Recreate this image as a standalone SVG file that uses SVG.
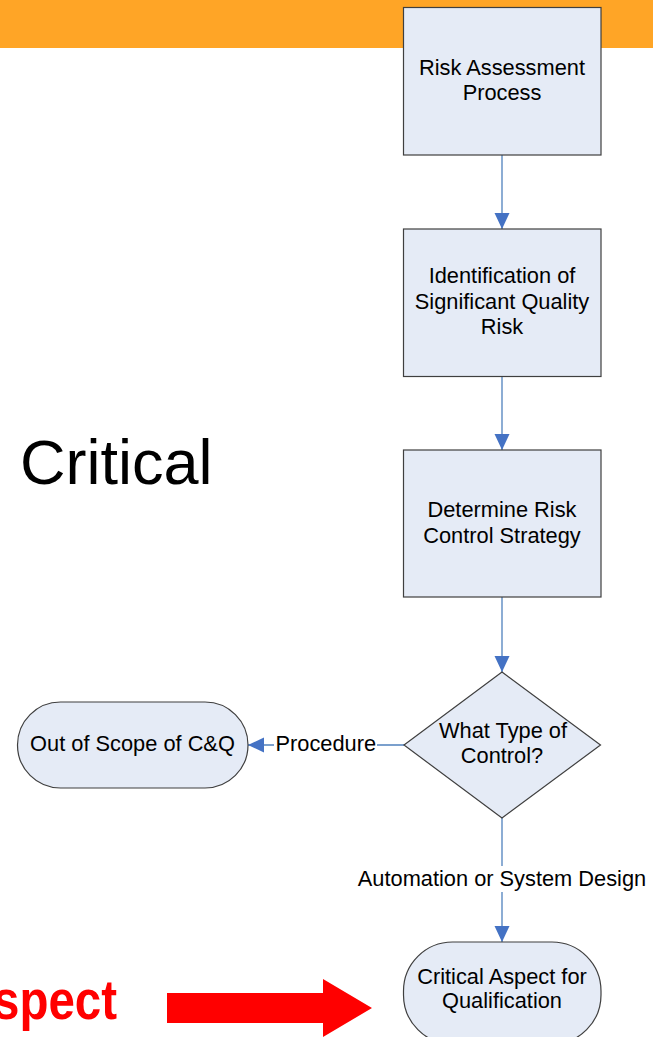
<svg xmlns="http://www.w3.org/2000/svg" width="653" height="1037" viewBox="0 0 653 1037">
<style>
.node{fill:#E5EBF6;stroke:#3F3F3F;stroke-width:1.2}
.t{font-family:"Liberation Sans",Arial,sans-serif;font-size:21.8px;fill:#000;text-anchor:middle}
.conn{stroke:#4F81BD;stroke-width:1.3;fill:none}
.lbl{font-family:"Liberation Sans",Arial,sans-serif;font-size:21.8px;fill:#000}
</style>
<defs>
<marker id="arr" markerUnits="userSpaceOnUse" markerWidth="17" markerHeight="16" refX="16" refY="7.5" orient="auto">
<path d="M0,0 L16,7.5 L0,15 Z" fill="#4472C4"/>
</marker>
</defs>
<rect x="0" y="0" width="653" height="48" fill="#FFA526"/>
<text x="20" y="484" font-family="Liberation Sans,Arial,sans-serif" font-size="63" fill="#000">Critical</text>
<text x="-7" y="1019" font-family="Liberation Sans,Arial,sans-serif" font-size="55" font-weight="bold" fill="#FF0000" textLength="124" lengthAdjust="spacingAndGlyphs">spect</text>
<polygon points="167,993 323,993 323,979 372,1008 323,1037 323,1023 167,1023" fill="#FF0000"/>
<g id="connectors">
<line class="conn" x1="502" y1="155" x2="502" y2="229" marker-end="url(#arr)"/>
<line class="conn" x1="502" y1="377" x2="502" y2="450" marker-end="url(#arr)"/>
<line class="conn" x1="502" y1="597" x2="502" y2="672" marker-end="url(#arr)"/>
<line class="conn" x1="404" y1="745" x2="248" y2="745" marker-end="url(#arr)"/>
<rect x="274" y="731" width="103" height="26" fill="#fff"/>
<text class="lbl" x="275.5" y="751">Procedure</text>
<line class="conn" x1="502" y1="818" x2="502" y2="942" marker-end="url(#arr)"/>
<rect x="355" y="866" width="294" height="26" fill="#fff"/>
<text class="lbl" x="502" y="886" text-anchor="middle">Automation or System Design</text>
</g>
<g id="risk-assessment">
<rect class="node" x="403.5" y="7.5" width="197.5" height="147.5"/>
<text class="t" x="502" y="75">Risk Assessment</text>
<text class="t" x="502" y="100">Process</text>
</g>
<g id="identification">
<rect class="node" x="403.5" y="229" width="197.5" height="147.5"/>
<text class="t" x="502" y="283">Identification of</text>
<text class="t" x="502" y="308.5">Significant Quality</text>
<text class="t" x="502" y="334">Risk</text>
</g>
<g id="determine">
<rect class="node" x="403.5" y="450" width="197.5" height="147"/>
<text class="t" x="502" y="517">Determine Risk</text>
<text class="t" x="502" y="543">Control Strategy</text>
</g>
<g id="decision">
<polygon class="node" points="502,672 600.5,745 502,818 404,745"/>
<text class="t" x="503" y="738">What Type of</text>
<text class="t" x="502" y="763">Control?</text>
</g>
<g id="out-of-scope">
<rect class="node" x="17.5" y="702" width="230.5" height="86" rx="43" ry="43"/>
<text class="t" x="132.5" y="751">Out of Scope of C&amp;Q</text>
</g>
<g id="critical-aspect">
<rect class="node" x="403.5" y="942" width="197.5" height="102" rx="49" ry="49"/>
<text class="t" x="502" y="983.5">Critical Aspect for</text>
<text class="t" x="502" y="1008">Qualification</text>
</g>
</svg>
